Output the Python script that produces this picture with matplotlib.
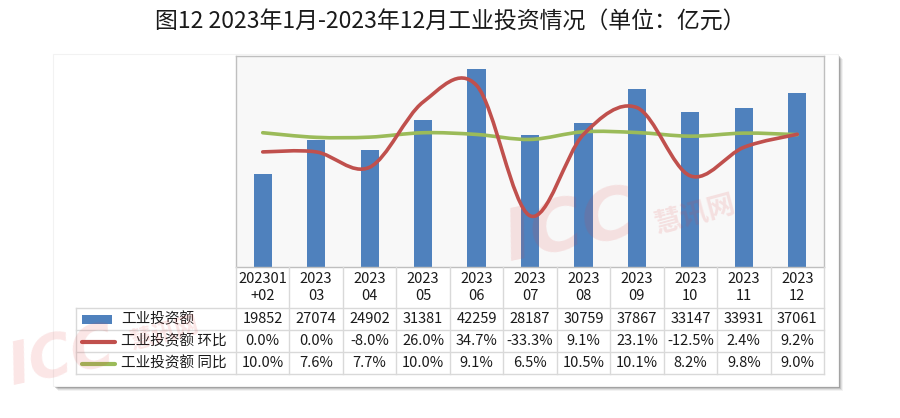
import matplotlib
matplotlib.use("Agg")
from matplotlib import pyplot as plt
from matplotlib.path import Path
from matplotlib.patches import PathPatch, Rectangle
from matplotlib.lines import Line2D

plt.rcParams['font.family'] = ['Noto Sans CJK SC', 'DejaVu Sans']

# data
title = "图12 2023年1月-2023年12月工业投资情况（单位：亿元）"
months = ["202301\n+02", "2023\n03", "2023\n04", "2023\n05", "2023\n06", "2023\n07",
          "2023\n08", "2023\n09", "2023\n10", "2023\n11", "2023\n12"]
invest = [19852, 27074, 24902, 31381, 42259, 28187, 30759, 37867, 33147, 33931, 37061]
mom = [0.0, 0.0, -8.0, 26.0, 34.7, -33.3, 9.1, 23.1, -12.5, 2.4, 9.2]
yoy = [10.0, 7.6, 7.7, 10.0, 9.1, 6.5, 10.5, 10.1, 8.2, 9.8, 9.0]
series_names = ["工业投资额", "工业投资额 环比", "工业投资额 同比"]

BLUE = '#4f81bd'
RED = '#c0504d'
GREEN = '#9bbb59'
GRID = '#d9d9d9'

W, H = 900, 418


def fx(px):
    return px / W


def fy(py):
    return 1 - py / H


def smooth_path(xs, ys):
    # excel-like smoothed line (catmull-rom as bezier)
    pts = list(zip(xs, ys))
    n = len(pts)
    verts = [pts[0]]
    codes = [Path.MOVETO]
    for i in range(n - 1):
        p0 = pts[i - 1] if i > 0 else pts[i]
        p1 = pts[i]
        p2 = pts[i + 1]
        p3 = pts[i + 2] if i + 2 < n else pts[i + 1]
        c1 = (p1[0] + (p2[0] - p0[0]) / 6, p1[1] + (p2[1] - p0[1]) / 6)
        c2 = (p2[0] - (p3[0] - p1[0]) / 6, p2[1] - (p3[1] - p1[1]) / 6)
        verts += [c1, c2, p2]
        codes += [Path.CURVE4] * 3
    return Path(verts, codes)


fig = plt.figure(figsize=(9, 4.18), dpi=100)

# chart frame with soft shadow
for k, a in enumerate([0.05, 0.08, 0.12, 0.18]):
    off = 5 - k
    fig.patches.append(Rectangle((fx(53 + off), fy(386 + off)), fx(785), 332 / H,
                                 transform=fig.transFigure, facecolor='#000000', alpha=a,
                                 edgecolor='none', zorder=-3))
fig.patches.append(Rectangle((fx(53), fy(386)), fx(785), 332 / H, transform=fig.transFigure,
                             facecolor='white', edgecolor='#f2f2f2', linewidth=0.8, zorder=-2))

fig.text(0.5, fy(22), title, ha='center', va='center', fontsize=16.5, color='#1a1a1a')

# plot area
ax = fig.add_axes([fx(236), fy(267), fx(824 - 236), (267 - 56) / H])
ax.set_facecolor('#f8f8f8')
x = list(range(len(months)))
ax.bar(x, invest, width=0.34, color=BLUE, zorder=2)
ax.set_xlim(-0.5, len(months) - 0.5)
ax.set_ylim(0, 45000)
ax.set_xticks([])
ax.set_yticks([])
for s in ax.spines.values():
    s.set_color('#bfbfbf')
    s.set_linewidth(1.0)

ax2 = ax.twinx()
ax2.set_ylim(-60, 50)
ax2.set_yticks([])
ax2.axis('off')
ax2.add_patch(PathPatch(smooth_path(x, yoy), facecolor='none', edgecolor=GREEN, linewidth=2.6,
                        capstyle='round', zorder=3))
ax2.add_patch(PathPatch(smooth_path(x, mom), facecolor='none', edgecolor=RED, linewidth=2.6,
                        capstyle='round', zorder=4))

# data table under the plot
colw = (824 - 236) / len(months)
left_edge = -0.5 - (236 - 76) / colw
tax = fig.add_axes([fx(76), fy(374), fx(824 - 76), (374 - 267) / H])
tax.set_xlim(left_edge, len(months) - 0.5)
tax.set_ylim(374, 267)
tax.axis('off')


def px2x(px):
    return left_edge + (px - 76) / colw


# grid
for yy in [308, 330, 352, 374]:
    tax.plot([left_edge, len(months) - 0.5], [yy, yy], color=GRID, lw=1.0, clip_on=False)
for i in range(len(months) + 1):
    tax.plot([i - 0.5, i - 0.5], [267, 374], color=GRID, lw=1.0, clip_on=False)
tax.plot([left_edge, left_edge], [308, 374], color=GRID, lw=1.0, clip_on=False)

row_y = [319, 341, 363]
fs = 10.5
for i, lab in enumerate(months):
    tax.text(i, 287.5, lab, ha='center', va='center', fontsize=fs, linespacing=1.3, color='#1a1a1a')
    tax.text(i, row_y[0], "%d" % invest[i], ha='center', va='center', fontsize=fs, color='#1a1a1a')
    tax.text(i, row_y[1], "%.1f%%" % mom[i], ha='center', va='center', fontsize=fs, color='#1a1a1a')
    tax.text(i, row_y[2], "%.1f%%" % yoy[i], ha='center', va='center', fontsize=fs, color='#1a1a1a')

# legend keys
tax.add_patch(Rectangle((px2x(82), row_y[0] + 4.5), px2x(112) - px2x(82), -9, facecolor=BLUE,
                        edgecolor='none'))
tax.add_line(Line2D([px2x(82), px2x(115)], [row_y[1] + 0.5, row_y[1] + 0.5], color=RED, lw=3,
                    solid_capstyle='round'))
tax.add_line(Line2D([px2x(82), px2x(115)], [row_y[2] + 0.5, row_y[2] + 0.5], color=GREEN, lw=3,
                    solid_capstyle='round'))
for name, yy in zip(series_names, row_y):
    tax.text(px2x(121), yy, name, ha='left', va='center', fontsize=fs, color='#1a1a1a')

# watermarks
for (wx, wy, sz) in [(570, 228, 52), (62, 358, 42)]:
    fig.text(fx(wx), fy(wy), "ICC", ha='center', va='center', fontsize=sz, fontweight='bold',
             style='italic', color='#e03c3c', alpha=0.13, rotation=12, family='DejaVu Sans',
             zorder=10)
fig.text(fx(695), fy(215), "慧讯网", ha='center', va='center', fontsize=20, fontweight='bold',
         color='#e03c3c', alpha=0.13, rotation=15, zorder=10)
fig.text(fx(165), fy(332), "慧讯网", ha='center', va='center', fontsize=17, fontweight='bold',
         color='#e03c3c', alpha=0.13, rotation=15, zorder=10)

plt.savefig("out.png", dpi=100)
plt.close('all')
